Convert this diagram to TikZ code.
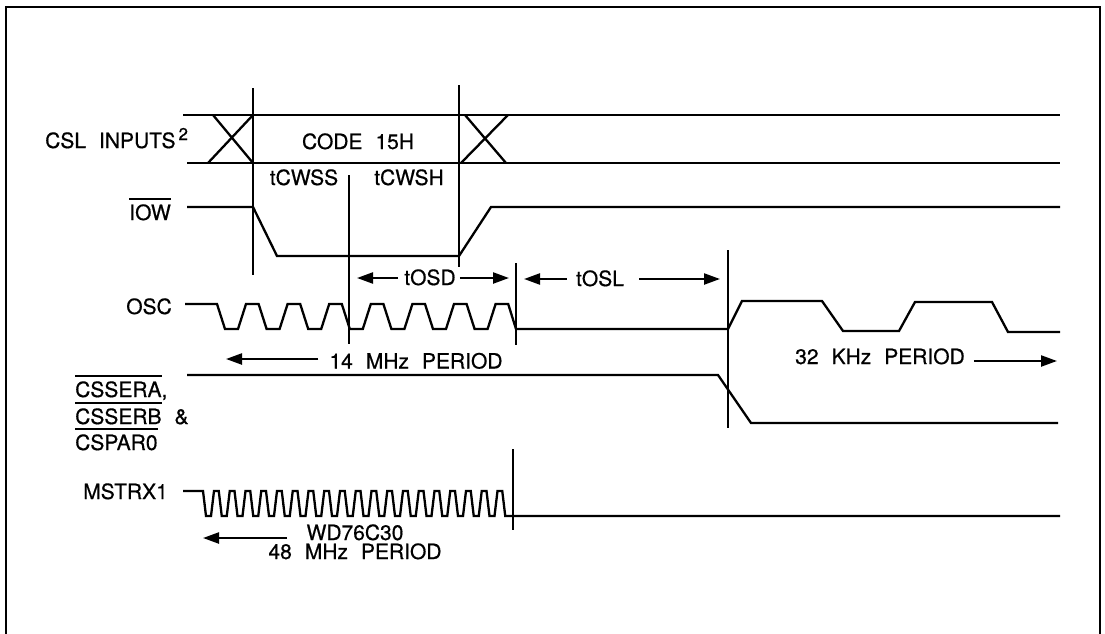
\documentclass[tikz,border=0pt]{standalone}
\usepackage{fontspec}
\setmainfont{TeX Gyre Heros}[FakeBold=0.6]
\usetikzlibrary{arrows.meta}
\newcommand\ovbar[1]{\vbox{\hrule height 1.8pt\kern 4.5pt\hbox{#1}}}
\newcommand\lblfont{\fontsize{21}{19}\selectfont\spaceskip=13pt plus 2pt\relax}
\newcommand\supfont{\fontsize{17}{17}\selectfont}
\begin{document}
\begin{tikzpicture}[x=1pt,y=-1pt,
  sig/.style={line width=2.3pt},
  guide/.style={line width=2pt},
  lbl/.style={font=\lblfont, inner sep=0pt},
  dimarrow/.style={line width=2.3pt, -{Triangle[length=16pt,width=11pt]}}]
\useasboundingbox (0,0) rectangle (1105,634);
% frame
\draw[line width=2.2pt] (6,634) -- (6,7) -- (1100,7) -- (1100,634);

% ---------- CSL INPUTS ----------
\node[lbl, anchor=base west] (csl) at (45,148) {CSL INPUTS\hspace{3pt}\raisebox{8pt}{\supfont 2}};
\draw[sig] (183,115) -- (1060,115);
\draw[sig] (187,163) -- (1060,163);
\draw[sig] (213,115) -- (253,163);
\draw[sig] (208,163) -- (253,115);
\draw[sig] (465,115) -- (506,163);
\draw[sig] (461,163) -- (508,115);
\node[lbl, anchor=base] (code) at (358,149) {CODE 15H};

% guide lines
\coordinate (g1t) at (253,88);  \coordinate (g1b) at (253,275);
\coordinate (g2t) at (459,85);  \coordinate (g2b) at (459,267);
\coordinate (g3t) at (349,175); \coordinate (g3b) at (349,344);
\coordinate (g4t) at (516,263); \coordinate (g4b) at (516,345);
\coordinate (g5t) at (728,250); \coordinate (g5b) at (728,428);
\coordinate (g6t) at (513,449); \coordinate (g6b) at (513,530);
\draw[guide] (g1t) -- (g1b);
\draw[guide] (g2t) -- (g2b);
\draw[guide] (g3t) -- (g3b);
\draw[guide] (g4t) -- (g4b);
\draw[guide] (g5t) -- (g5b);
\draw[guide] (g6t) -- (g6b);

\node[lbl, anchor=base] (cwss) at (304,185) {tCWSS};
\node[lbl, anchor=base] (cwsh) at (409,185) {tCWSH};

% ---------- IOW ----------
\node[lbl, anchor=base east] (iow) at (171,220) {\ovbar{IOW}};
\draw[sig] (187,207) -- (253,207) -- (277,256) -- (459,256) -- (491,207) -- (1060,207);

% ---------- tOSD / tOSL ----------
\node[lbl, anchor=base] (tosd) at (430,285) {tOSD};
\coordinate (osdl) at (357,278); \coordinate (osdr) at (509,278);
\draw[dimarrow] ([xshift=-6pt]tosd.west |- osdl) -- (osdl);
\draw[dimarrow] ([xshift=4pt]tosd.east |- osdr) -- (osdr);
\node[lbl, anchor=base] (tosl) at (600,286) {tOSL};
\coordinate (osll) at (524,279); \coordinate (oslr) at (720,279);
\draw[dimarrow] ([xshift=-9pt]tosl.west |- osll) -- (osll);
\draw[dimarrow] ([xshift=15pt]tosl.east |- oslr) -- (oslr);

% ---------- OSC ----------
\node[lbl, anchor=base east] (osc) at (172,314) {OSC};
\draw[sig] (185,304)
  foreach \k in {0,...,6} {
    -- ({217+41.6*\k},304) -- ({225+41.6*\k},329) -- ({238+41.6*\k},329) -- ({246+41.6*\k},304)
  }
  -- (508.2,304) -- (516,329) -- (728,329) -- (742,301) -- (822,301) -- (843,331)
  -- (899,331) -- (915,302) -- (992,302) -- (1008,332) -- (1060,332);

\node[lbl, anchor=base] (p14) at (416,368.5) {14 MHz PERIOD};
\coordinate (p14tip) at (226,359);
\draw[dimarrow] ([xshift=-11pt]p14.west |- p14tip) -- (p14tip);
\node[lbl, anchor=base] (p32) at (880,364) {32 KHz PERIOD};
\coordinate (p32tip) at (1057,361);
\draw[dimarrow] ([xshift=9pt]p32.east |- p32tip) -- (p32tip);

% ---------- CSSERA / CSSERB / CSPAR0 ----------
\node[lbl, anchor=base west] (cssera) at (75,397) {\ovbar{CSSERA},};
\node[lbl, anchor=base west] (csserb) at (75,424) {\ovbar{CSSERB} \&};
\node[lbl, anchor=base west] (cspar) at (75,450) {\ovbar{CSPAR0}};
\draw[sig] (187,375) -- (718,375) -- (751,423) -- (1058,423);

% ---------- MSTRX1 ----------
\node[lbl, anchor=base east] (mstrx) at (168,499) {MSTRX1};
\draw[sig] (183,491)
  foreach \k in {0,...,18} {
    -- ({203+15.75*\k},491) -- ({206+15.75*\k},516) -- ({211+15.75*\k},516) -- ({214+15.75*\k},491)
  }
  -- (502.25,491) -- (505.25,516) -- (1060,516);
\node[lbl, anchor=base, align=center] (p48) at (355,559) {WD76C30\\48 MHz PERIOD};
\coordinate (p48tip) at (203,538);
\coordinate (p48tail) at (287,538);
\draw[dimarrow] (p48tail) -- (p48tip);
\end{tikzpicture}
\end{document}
